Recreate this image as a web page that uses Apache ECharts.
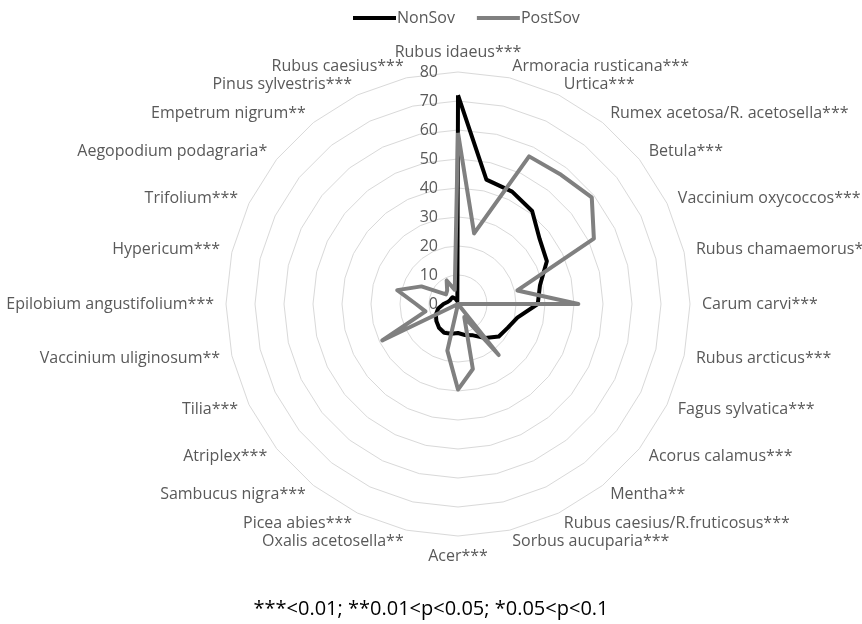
<!DOCTYPE html>
<html>
<head>
<meta charset="utf-8">
<script src="https://cdn.jsdelivr.net/npm/echarts@6/dist/echarts.min.js"></script>
<style>html,body{margin:0;padding:0;background:#fff}#c{width:862px;height:624px}</style>
</head>
<body>
<div id="c"></div>
<script>
// Categories listed clockwise starting from the top
const categories = [
  "Rubus idaeus***", "Armoracia rusticana***", "Urtica***", "Rumex acetosa/R. acetosella***",
  "Betula***", "Vaccinium oxycoccos***", "Rubus chamaemorus*", "Carum carvi***",
  "Rubus arcticus***", "Fagus sylvatica***", "Acorus calamus***", "Mentha**",
  "Rubus caesius/R.fruticosus***", "Sorbus aucuparia***", "Acer***", "Oxalis acetosella**",
  "Picea abies***", "Sambucus nigra***", "Atriplex***", "Tilia***",
  "Vaccinium uliginosum**", "Epilobium angustifolium***", "Hypericum***", "Trifolium***",
  "Aegopodium podagraria*", "Empetrum nigrum**", "Pinus sylvestris***", "Rubus caesius***"
];
const nonSov = [72, 44, 43, 41, 36, 34, 29, 27.5, 21, 19, 18, 15, 12, 11, 10, 10.5, 11, 10.5, 9.5, 8.5, 7, 5, 3.5, 3, 3, 3, 2, 1];
const postSov = [59, 25, 56.5, 57, 59, 52, 21, 41.5, 0, 0, 0, 22.5, 5, 23, 29.5, 16.5, 0, 0, 0, 29, 11.5, 14.5, 21.5, 14, 5.3, 6, 9, 5];
const axisMax = 80;
const seriesNames = ["NonSov", "PostSov"];
const note = "***<0.01; **0.01<p<0.05; *0.05<p<0.1";

// ECharts places indicators counter-clockwise; reorder to get clockwise layout
const order = [0];
for (let i = categories.length - 1; i >= 1; i--) order.push(i);
const reorder = arr => order.map(i => arr[i]);

const FONT = "Open Sans";
const chart = echarts.init(document.getElementById('c'), null, {renderer: 'canvas'});
chart.setOption({
  animation: false,
  backgroundColor: '#ffffff',
  title: {
    text: note,
    left: 'center',
    top: 594,
    textStyle: {color: '#000000', fontSize: 20, fontWeight: 'normal', fontFamily: FONT}
  },
  legend: {
    data: seriesNames,
    left: 348,
    top: 5,
    itemWidth: 43,
    itemHeight: 4,
    itemGap: 22,
    icon: 'rect',
    textStyle: {color: '#595959', fontSize: 16, fontFamily: FONT, padding: [0, 0, 0, -4]}
  },
  radar: {
    center: [458, 304],
    radius: 232,
    startAngle: 90,
    splitNumber: 8,
    shape: 'polygon',
    nameGap: 12,
    axisName: {color: '#595959', fontSize: 16, fontFamily: FONT},
    splitLine: {lineStyle: {color: '#d9d9d9', width: 1}},
    splitArea: {show: false},
    axisLine: {show: false},
    axisTick: {show: false},
    axisLabel: {show: false},
    indicator: reorder(categories).map((name, k) => ({
      name: name, min: 0, max: axisMax,
      axisLabel: k === 0 ? {show: true, color: '#595959', fontSize: 16, fontFamily: FONT, margin: 20} : undefined
    }))
  },
  series: [{
    type: 'radar',
    symbol: 'none',
    data: [
      {name: seriesNames[0], value: reorder(nonSov), lineStyle: {color: '#000000', width: 4, join: 'round'}, itemStyle: {color: '#000000'}},
      {name: seriesNames[1], value: reorder(postSov), lineStyle: {color: '#808080', width: 4, join: 'round'}, itemStyle: {color: '#808080'}}
    ]
  }]
});
</script>
</body>
</html>
